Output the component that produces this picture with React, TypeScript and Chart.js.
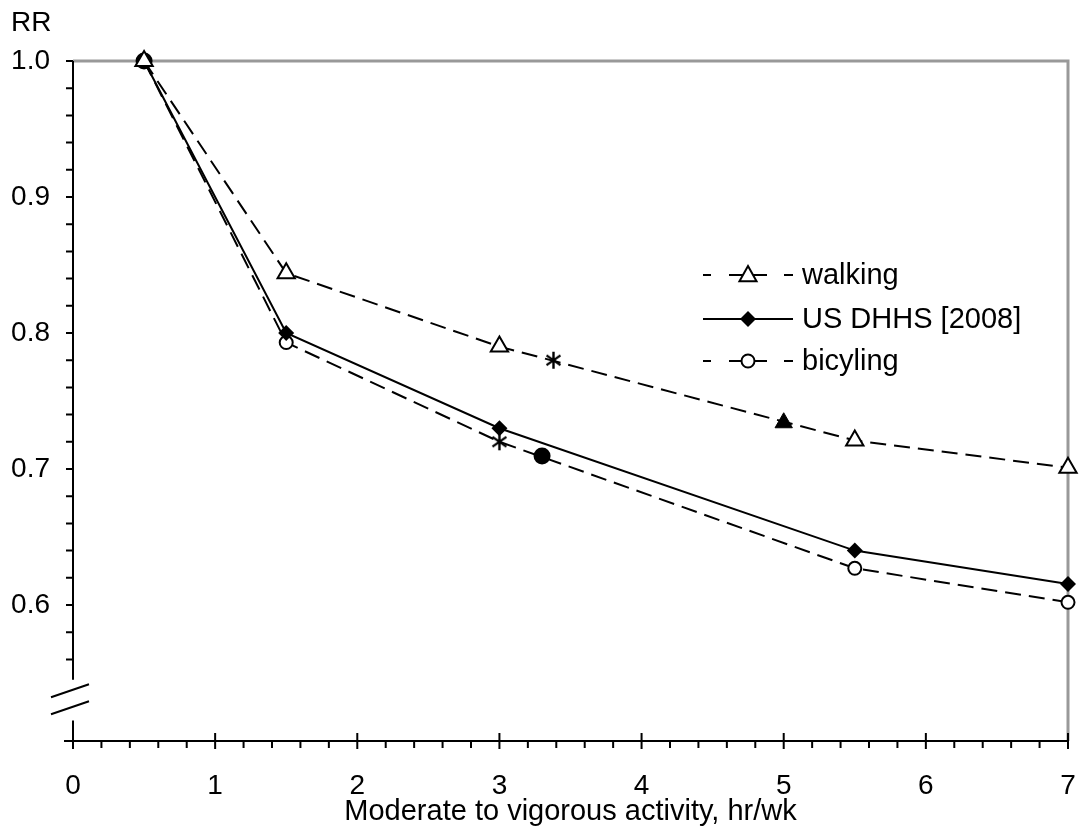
import React, { useEffect, useRef } from "react";
import { Chart, registerables } from "chart.js";

Chart.register(...registerables);

// ---- data ----
const xValues = [0.5, 1.5, 3, 5.5, 7];
const walking = [1.0, 0.844, 0.79, 0.721, 0.701];
const usDhhs = [1.0, 0.8, 0.73, 0.64, 0.6155];
const bicycling = [1.0, 0.793, 0.72, 0.627, 0.602];
const walkingExtraAsterisk = [{ x: 3.38, y: 0.78 }];
const walkingExtraFilled = [{ x: 5.0, y: 0.734 }];
const bicyclingExtraFilled = [{ x: 3.3, y: 0.7095 }];
const startPoint = [{ x: 0.5, y: 1.0 }];
const legendLabels = ["walking", "US DHHS [2008]", "bicyling"];
const xTickLabels = ["0", "1", "2", "3", "4", "5", "6", "7"];
const yTickLabels = ["1.0", "0.9", "0.8", "0.7", "0.6"];

const FONT = "'Liberation Sans', Arial, Helvetica, sans-serif";

function makeAsterisk(r: number) {
  const c = document.createElement("canvas");
  const s = Math.ceil(2 * r + 4);
  c.width = s;
  c.height = s;
  const g = c.getContext("2d")!;
  g.strokeStyle = "#000";
  g.lineWidth = 2.4;
  const cx = s / 2;
  g.beginPath();
  for (const a of [90, 35, 145]) {
    const dx = Math.cos((a * Math.PI) / 180) * r;
    const dy = Math.sin((a * Math.PI) / 180) * r;
    g.moveTo(cx - dx, cx - dy);
    g.lineTo(cx + dx, cx + dy);
  }
  g.stroke();
  return c;
}

function drawMarker(ctx: CanvasRenderingContext2D, kind: string, x: number, y: number) {
  ctx.save();
  ctx.setLineDash([]);
  ctx.lineWidth = 2;
  ctx.strokeStyle = "#000";
  ctx.beginPath();
  if (kind === "triangle") {
    const r = 9;
    ctx.moveTo(x, y - r);
    ctx.lineTo(x + r * 0.95, y + r * 0.7);
    ctx.lineTo(x - r * 0.95, y + r * 0.7);
    ctx.closePath();
    ctx.fillStyle = "#fff";
    ctx.fill();
    ctx.stroke();
  } else if (kind === "diamond") {
    const r = 8;
    ctx.moveTo(x, y - r);
    ctx.lineTo(x + r, y);
    ctx.lineTo(x, y + r);
    ctx.lineTo(x - r, y);
    ctx.closePath();
    ctx.fillStyle = "#000";
    ctx.fill();
  } else {
    ctx.arc(x, y, 6.5, 0, Math.PI * 2);
    ctx.fillStyle = "#fff";
    ctx.fill();
    ctx.stroke();
  }
  ctx.restore();
}

const decorPlugin = {
  id: "decor",
  beforeDatasetsDraw(chart: any) {
    const { ctx, chartArea } = chart;
    const xs = chart.scales.x;
    const ys = chart.scales.y;
    const L = chartArea.left;
    const R = chartArea.right;
    const T = chartArea.top;
    const B = chartArea.bottom;
    ctx.save();
    // grey frame (top & right)
    ctx.strokeStyle = "#999";
    ctx.lineWidth = 3;
    ctx.beginPath();
    ctx.moveTo(L, T);
    ctx.lineTo(R, T);
    ctx.lineTo(R, B);
    ctx.stroke();

    // y axis with break
    const gapTop = ys.getPixelForValue(0.545);
    const gapBot = ys.getPixelForValue(0.515);
    ctx.strokeStyle = "#000";
    ctx.lineWidth = 2;
    ctx.beginPath();
    ctx.moveTo(L, T);
    ctx.lineTo(L, gapTop);
    ctx.moveTo(L, gapBot);
    ctx.lineTo(L, B);
    ctx.stroke();
    // y ticks every 0.02
    ctx.beginPath();
    for (let i = 0; i <= 25; i++) {
      const v = 0.5 + i * 0.02;
      const py = ys.getPixelForValue(v);
      if (py > gapTop && py < gapBot) continue;
      const len = i === 0 ? 9 : 7;
      ctx.moveTo(L - len, py);
      ctx.lineTo(L, py);
    }
    ctx.stroke();
    // break slashes
    const mid = (gapTop + gapBot) / 2;
    ctx.beginPath();
    ctx.moveTo(L - 22, mid - 3);
    ctx.lineTo(L + 16, mid - 16);
    ctx.moveTo(L - 22, mid + 14);
    ctx.lineTo(L + 16, mid + 1);
    ctx.stroke();

    // x axis
    ctx.beginPath();
    ctx.moveTo(L - 9, B);
    ctx.lineTo(R, B);
    ctx.stroke();
    ctx.beginPath();
    for (let i = 0; i <= 35; i++) {
      const v = i * 0.2;
      const px = xs.getPixelForValue(v);
      if (i % 5 === 0) {
        ctx.moveTo(px, B - 8);
        ctx.lineTo(px, B + 8);
      } else {
        ctx.moveTo(px, B);
        ctx.lineTo(px, B + 7);
      }
    }
    ctx.stroke();

    // RR label
    ctx.fillStyle = "#000";
    ctx.font = `28px ${FONT}`;
    ctx.textAlign = "left";
    ctx.textBaseline = "middle";
    ctx.fillText("RR", 11, 23);
    ctx.restore();
  },
  afterDraw(chart: any) {
    const { ctx } = chart;
    const x1 = 703;
    const x2 = 793;
    const xm = 748;
    const rows = [275, 319, 361];
    const kinds = ["triangle", "diamond", "circle"];
    const dashed = [true, false, true];
    ctx.save();
    ctx.strokeStyle = "#000";
    ctx.lineWidth = 2;
    rows.forEach((ry, i) => {
      ctx.beginPath();
      if (dashed[i]) {
        ctx.moveTo(x1, ry);
        ctx.lineTo(x1 + 8, ry);
        ctx.moveTo(x1 + 26, ry);
        ctx.lineTo(x2 - 26, ry);
        ctx.moveTo(x2 - 9, ry);
        ctx.lineTo(x2, ry);
      } else {
        ctx.moveTo(x1, ry);
        ctx.lineTo(x2, ry);
      }
      ctx.stroke();
      drawMarker(ctx, kinds[i], xm, ry);
      ctx.fillStyle = "#000";
      ctx.font = `29px ${FONT}`;
      ctx.textAlign = "left";
      ctx.textBaseline = "middle";
      ctx.fillText(legendLabels[i], 802, ry + 1);
    });
    ctx.restore();
  },
};

export default function App() {
  const ref = useRef<HTMLCanvasElement | null>(null);
  useEffect(() => {
    if (!ref.current) return;
    const asterisk = makeAsterisk(8.5);
    const toPts = (ys: number[]) => xValues.map((x, i) => ({ x, y: ys[i] }));
    const chart = new Chart(ref.current, {
      type: "line",
      data: {
        datasets: [
          {
            label: legendLabels[0],
            data: toPts(walking),
            borderColor: "#000",
            borderWidth: 2,
            borderDash: [16, 8],
            pointStyle: "triangle",
            pointRadius: 10,
            pointBorderWidth: 2,
            pointBackgroundColor: "#fff",
            pointBorderColor: "#000",
            tension: 0,
            clip: false,
          },
          {
            label: legendLabels[1],
            data: toPts(usDhhs),
            borderColor: "#000",
            borderWidth: 2,
            pointStyle: "rectRot",
            pointRadius: 8,
            pointBorderWidth: 0,
            pointBackgroundColor: "#000",
            pointBorderColor: "#000",
            tension: 0,
            clip: false,
          },
          {
            label: legendLabels[2],
            data: toPts(bicycling),
            borderColor: "#000",
            borderWidth: 2,
            borderDash: [16, 8],
            pointStyle: xValues.map((x) => (x === 3 ? asterisk : "circle")) as any,
            pointRadius: 6.5,
            pointBorderWidth: 2,
            pointBackgroundColor: "#fff",
            pointBorderColor: "#000",
            tension: 0,
            clip: false,
          },
          {
            label: "walk-ast",
            data: walkingExtraAsterisk,
            showLine: false,
            pointStyle: asterisk as any,
            pointRadius: 8,
            clip: false,
          },
          {
            label: "walk-filled",
            data: walkingExtraFilled,
            showLine: false,
            pointStyle: "triangle",
            pointRadius: 10,
            pointBorderWidth: 1,
            pointBackgroundColor: "#000",
            pointBorderColor: "#000",
            clip: false,
          },
          {
            label: "bike-filled",
            data: bicyclingExtraFilled,
            showLine: false,
            pointStyle: "circle",
            pointRadius: 8.5,
            pointBorderWidth: 0,
            pointBackgroundColor: "#000",
            pointBorderColor: "#000",
            clip: false,
          },
          {
            label: "start",
            data: startPoint,
            showLine: false,
            pointStyle: "circle",
            pointRadius: 8.5,
            pointBorderWidth: 0,
            pointBackgroundColor: "#000",
            pointBorderColor: "#000",
            clip: false,
          },
        ],
      },
      options: {
        responsive: false,
        animation: false,
        devicePixelRatio: 1,
        layout: { padding: { top: 61, right: 9, left: 0, bottom: 0 } },
        plugins: { legend: { display: false }, tooltip: { enabled: false } },
        scales: {
          x: {
            type: "linear",
            min: 0,
            max: 7,
            afterFit: (s: any) => {
              s.height = 88;
              s.paddingLeft = 0;
              s.paddingRight = 0;
            },
            grid: {
              display: true,
              drawOnChartArea: false,
              drawTicks: true,
              tickLength: 28,
              color: "rgba(0,0,0,0)",
            },
            border: { display: false },
            ticks: {
              stepSize: 1,
              autoSkip: false,
              maxRotation: 0,
              padding: 0,
              color: "#000",
              font: { family: FONT, size: 28 },
              callback: (v: any) => {
                const i = Math.round(Number(v));
                return Math.abs(Number(v) - i) < 1e-6 ? xTickLabels[i] : "";
              },
            },
            title: {
              display: true,
              text: "Moderate to vigorous activity, hr/wk",
              color: "#000",
              font: { family: FONT, size: 29 },
              padding: { top: 0, bottom: 0 },
            },
          },
          y: {
            type: "linear",
            min: 0.5,
            max: 1.0,
            afterFit: (s: any) => {
              s.width = 73;
            },
            grid: { display: false, drawTicks: false },
            border: { display: false },
            ticks: {
              stepSize: 0.1,
              autoSkip: false,
              padding: 23,
              color: "#000",
              font: { family: FONT, size: 28 },
              callback: (v: any) => {
                const idx = Math.round((1.0 - Number(v)) * 10);
                return idx >= 0 && idx < yTickLabels.length ? yTickLabels[idx] : "";
              },
            },
          },
        },
      },
      plugins: [decorPlugin],
    });
    return () => chart.destroy();
  }, []);
  return (
    <div style={{ position: "fixed", left: 0, top: 0, width: 1080, height: 829, background: "#fff" }}>
      <canvas ref={ref} width={1080} height={829} style={{ display: "block" }} />
    </div>
  );
}
